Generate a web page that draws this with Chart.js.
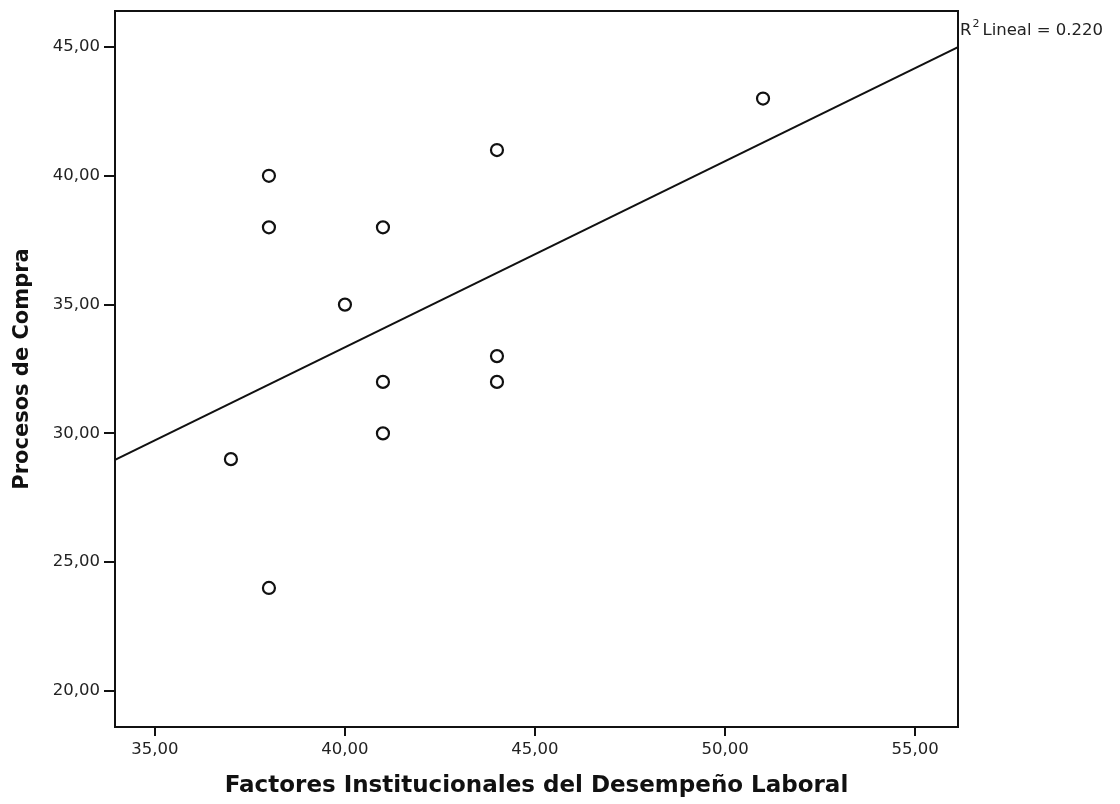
<!DOCTYPE html>
<html>
<head>
<meta charset="utf-8">
<script src="https://cdn.jsdelivr.net/npm/chart.js@4/dist/chart.umd.min.js"></script>
<style>
  html, body { margin: 0; padding: 0; background: #fff; }
  #wrap { width: 1120px; height: 804px; }
</style>
</head>
<body>
<div id="wrap"><canvas id="chart"></canvas></div>
<script>
// Datos
const factores = [38, 38, 41, 44, 51, 40, 44, 44, 41, 41, 37, 38];
const procesos = [40, 38, 38, 41, 43, 35, 33, 32, 32, 30, 29, 24];

// Recta de ajuste (extremos)
const ajusteX = [33.95, 56.13];
const ajusteY = [28.97, 45.0];

const xTicks = [35, 40, 45, 50, 55];
const yTicks = [20, 25, 30, 35, 40, 45];
const r2Label = "Lineal = 0.220";

const puntos = factores.map((x, i) => ({ x: x, y: procesos[i] }));
const recta = ajusteX.map((x, i) => ({ x: x, y: ajusteY[i] }));

const fmt = v => v.toFixed(2).replace(".", ",");
const fuente = "'DejaVu Sans', Verdana, sans-serif";

// Marco del área y etiqueta R²
const boxPlugin = {
    id: "box",
    afterDatasetsDraw(chart) {
        const { ctx, chartArea: a } = chart;
        ctx.save();
        ctx.strokeStyle = "#111";
        ctx.lineWidth = 2;
        ctx.strokeRect(a.left, a.top, a.right - a.left, a.bottom - a.top);
        ctx.fillStyle = "#222";
        ctx.textBaseline = "alphabetic";
        ctx.font = "16.5px " + fuente;
        ctx.fillText("R", a.right + 2, a.top + 24);
        const rw = ctx.measureText("R").width;
        ctx.font = "11px " + fuente;
        ctx.fillText("2", a.right + 2 + rw + 1, a.top + 16);
        ctx.font = "16.5px " + fuente;
        ctx.fillText(r2Label, a.right + 2 + rw + 11, a.top + 24);
        ctx.restore();
    }
};

const ctx = document.getElementById("chart").getContext("2d");
new Chart(ctx, {
    type: "scatter",
    data: {
        datasets: [
            {
                label: "Datos",
                data: puntos,
                pointStyle: "circle",
                pointRadius: 6,
                pointBorderWidth: 2.2,
                pointBorderColor: "#111",
                pointBackgroundColor: "#fff"
            },
            {
                label: "Ajuste",
                type: "line",
                data: recta,
                borderColor: "#111",
                borderWidth: 2,
                pointRadius: 0,
                fill: false
            }
        ]
    },
    options: {
        responsive: true,
        maintainAspectRatio: false,
        animation: false,
        layout: { padding: { left: 0, top: 11, right: 162, bottom: 0 } },
        plugins: { legend: { display: false }, tooltip: { enabled: false } },
        scales: {
            x: {
                type: "linear",
                min: 33.95,
                max: 56.13,
                afterBuildTicks: s => { s.ticks = xTicks.map(v => ({ value: v })); },
                afterFit: s => { s.height = 77; s.paddingLeft = 0; s.paddingRight = 0; },
                grid: { drawOnChartArea: false, color: "#111", lineWidth: 2, tickLength: 9 },
                border: { display: false },
                ticks: {
                    color: "#222",
                    font: { family: fuente, size: 16.5 },
                    padding: 4,
                    maxRotation: 0,
                    callback: v => fmt(v)
                },
                title: {
                    display: true,
                    text: "Factores Institucionales del Desempeño Laboral",
                    color: "#111",
                    font: { family: fuente, size: 23, weight: "bold" },
                    padding: { top: 4, bottom: 4 }
                }
            },
            y: {
                type: "linear",
                min: 18.6,
                max: 46.4,
                afterBuildTicks: s => { s.ticks = yTicks.map(v => ({ value: v })); },
                afterFit: s => { s.width = 115; s.paddingTop = 0; s.paddingBottom = 0; },
                grid: { drawOnChartArea: false, color: "#111", lineWidth: 2, tickLength: 11 },
                border: { display: false },
                ticks: {
                    color: "#222",
                    font: { family: fuente, size: 16.5 },
                    padding: 4,
                    callback: v => fmt(v)
                },
                title: {
                    display: true,
                    text: "Procesos de Compra",
                    color: "#111",
                    font: { family: fuente, size: 21, weight: "bold" },
                    padding: { top: 10, bottom: 4 }
                }
            }
        }
    },
    plugins: [boxPlugin]
});
</script>
</body>
</html>
